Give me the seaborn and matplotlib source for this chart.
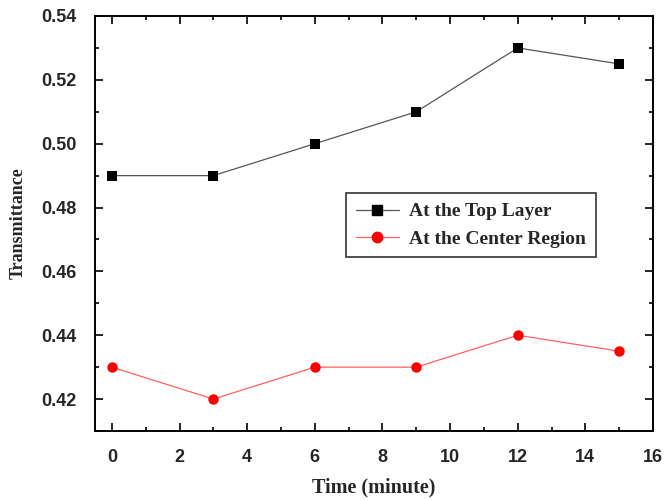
import matplotlib
matplotlib.use("Agg")
import matplotlib.pyplot as plt
import seaborn as sns
import pandas as pd
from matplotlib.lines import Line2D
from matplotlib.ticker import MultipleLocator, FormatStrFormatter

time_min = [0, 3, 6, 9, 12, 15]
top_layer = [0.49, 0.49, 0.50, 0.51, 0.53, 0.525]
center_region = [0.43, 0.42, 0.43, 0.43, 0.44, 0.435]
series_names = ["At the Top Layer", "At the Center Region"]

df = pd.concat([
    pd.DataFrame({"Time": time_min, "T": top_layer, "Series": series_names[0]}),
    pd.DataFrame({"Time": time_min, "T": center_region, "Series": series_names[1]}),
])

sns.set_style("ticks")
plt.rcParams["font.family"] = ["Liberation Sans", "DejaVu Sans"]

fig = plt.figure(figsize=(6.65, 5.0), dpi=100)
ax = fig.add_axes([95 / 665, 1 - 431 / 500, 558 / 665, 415 / 500])

line_colors = ["#555555", "#ff6060"]
marker_colors = ["#000000", "#ff0000"]
marker_shapes = ["s", "o"]
marker_sizes = [6.5, 7.5]

sns.lineplot(data=df, x="Time", y="T", hue="Series", style="Series",
             palette=dict(zip(series_names, marker_colors)),
             markers=dict(zip(series_names, marker_shapes)),
             dashes=False, linewidth=0.9, markeredgewidth=0,
             ax=ax, legend=False)
for ln, lc, mc, ms in zip(ax.lines, line_colors, marker_colors, marker_sizes):
    ln.set_color(lc)
    ln.set_markerfacecolor(mc)
    ln.set_markeredgecolor(mc)
    ln.set_markersize(ms)

ax.set_xlim(-0.5, 16)
ax.set_ylim(0.41, 0.54)
ax.xaxis.set_major_locator(MultipleLocator(2))
ax.xaxis.set_minor_locator(MultipleLocator(1))
ax.yaxis.set_major_locator(MultipleLocator(0.02))
ax.yaxis.set_minor_locator(MultipleLocator(0.01))
ax.yaxis.set_major_formatter(FormatStrFormatter("%.2f"))

ax.tick_params(which="both", direction="in", top=True, right=True,
               labeltop=False, labelright=False, width=1.2, color="black")
ax.tick_params(which="major", length=6, labelsize=13, pad=13)
ax.tick_params(which="minor", length=3)
for lbl in ax.get_xticklabels() + ax.get_yticklabels():
    lbl.set_fontweight("bold")
for sp in ax.spines.values():
    sp.set_visible(True)
    sp.set_linewidth(1.4)
    sp.set_color("black")

serif = ["Liberation Serif", "DejaVu Serif"]
ax.set_xlabel("Time (minute)", family=serif, fontweight="bold", fontsize=14.5, labelpad=8)
ax.set_ylabel("Transmittance", family=serif, fontweight="bold", fontsize=13, labelpad=11)

handles = [
    Line2D([], [], color=lc, lw=0.9, marker=m, ms=ms, mfc=mc, mec=mc)
    for lc, mc, m, ms in zip(line_colors, marker_colors, marker_shapes, marker_sizes)
]
leg = ax.legend(handles, series_names, loc="upper left",
                bbox_to_anchor=(251 / 558, 238 / 415), borderaxespad=0,
                frameon=True, fancybox=False, edgecolor="black",
                handlelength=2.2, handletextpad=0.55, borderpad=0.5,
                labelspacing=0.5,
                prop={"family": serif, "weight": "bold", "size": 14})
leg.get_frame().set_linewidth(1.2)

fig.savefig("out.png", dpi=100)
